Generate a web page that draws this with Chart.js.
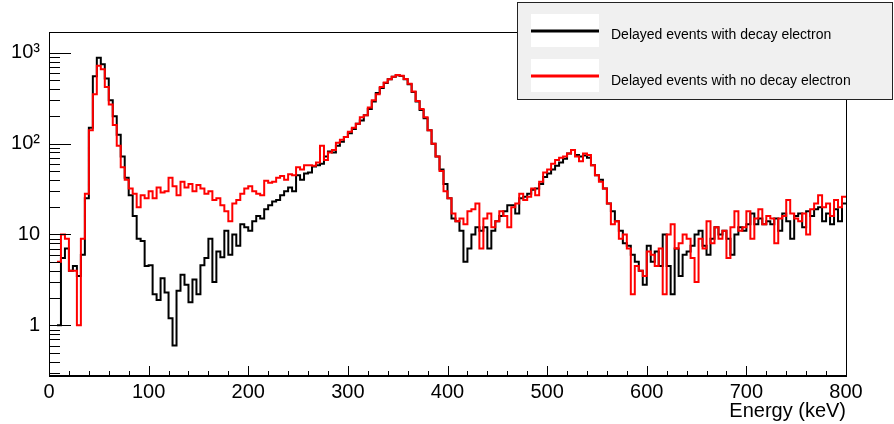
<!DOCTYPE html>
<html>
<head>
<meta charset="utf-8">
<script src="https://cdn.jsdelivr.net/npm/chart.js@4/dist/chart.umd.min.js"></script>
<style>
html,body{margin:0;padding:0;background:#fff;}
#wrap{width:894px;height:424px;position:relative;}
</style>
</head>
<body>
<div id="wrap"><canvas id="c" width="894" height="424"></canvas></div>
<script>
// ---- data (4 keV bins, 0..800 keV) ----
const binWidthKeV = 4;
const xTickLabels = [0, 100, 200, 300, 400, 500, 600, 700, 800];
const yTickLabels = ['1', '10', '10\u00B2', '10\u00B3'];
const seriesNames = ['Delayed events with decay electron', 'Delayed events with no decay electron'];

const withDecayElectron = [
  0,0,1.0,5.5,7,4,4.5,3.5,6,25,
  150,550,880,750,520,300,200,125,72,42,
  27,16,9,8.5,4.5,4.6,2.2,1.9,3.3,2.3,
  1.2,0.6,2.4,3.6,2.8,1.8,3.2,2.2,4.6,5.5,
  9,3,6.5,5.6,11,6,10,7.5,13,12,
  11,14,16,15,19,21,23,24,27,30,
  33,30,45,40,47,48,56,58,60,72,
  82,80,95,105,118,130,145,165,180,205,
  240,290,360,410,465,510,545,565,555,510,
  450,370,290,235,190,140,100,72,52,36,
  25,15,14,11,5,7,10,12,11,12,
  7,11,14,16,18,21,21,17,25,26,
  28,31,32,36,43,47,52,57,62,68,
  78,85,75,72,74,70,58,45,40,32,
  22,18,14,11,8,7.5,6,5,4,2.8,
  7.5,5,6.5,4.5,10,4.5,2.2,7,3.5,6,
  6.5,7.5,10,11,7.5,6,9,12,10,11,
  9,6,10,12,11,13,17,13,15,13,
  14,13,15,11,17,14,9,16,17,12,
  18,16,19,20,14,17,13,19,14,22
];

const noDecayElectron = [
  0,0,5,10,9,4,4,1.0,9,28,
  140,350,720,660,420,270,160,95,55,40,
  32,28,20,27,25,30,25,33,29,30,
  42,34,27,38,33,36,30,35,32,28,
  30,24,25,21,18,14,22,24,28,32,
  34,30,28,27,39,37,38,42,44,40,
  46,45,55,52,58,58,57,62,95,66,
  80,85,102,110,118,135,150,165,195,205,
  250,300,350,420,470,510,545,570,560,515,
  455,375,295,240,195,140,100,72,50,30,
  25,17,14,15,13,18,19,22,7,15,
  17,12,14,18,16,12,20,22,28,24,
  26,32,27,38,48,52,60,66,70,72,
  78,85,72,64,78,75,58,45,38,32,
  22,13,14,9,10,7,2.2,4.5,4,3.5,
  6.5,6,4.5,7,2.2,10,13,7,8,10,
  9,5.5,3,9,7,14,8,12,9,11,
  5.5,12,18,11,12,18,9,15,19,13,
  16,15,8,15,16,24,17,15,14,17,
  10,19,22,27,20,22,16,24,20,26
];

// histogram as step points at bin lower edges, plus closing edge
function toSteps(vals) {
  const pts = vals.map((v, i) => ({x: i * binWidthKeV, y: v}));
  pts.push({x: vals.length * binWidthKeV, y: vals[vals.length - 1]});
  return pts;
}

const FONT = "'Liberation Sans', Arial, sans-serif";

const insideTicks = {
  id: 'insideTicks',
  afterDatasetsDraw(chart) {
    const {ctx, chartArea: a, scales: {x, y}} = chart;
    ctx.save();
    ctx.strokeStyle = '#000';
    ctx.lineWidth = 1;
    ctx.beginPath();
    x.ticks.forEach(t => {
      const px = Math.round(x.getPixelForValue(t.value)) + 0.5;
      const len = (t.value % 100 === 0) ? 10 : 5;
      ctx.moveTo(px, a.bottom);
      ctx.lineTo(px, a.bottom - len);
    });
    y.ticks.forEach(t => {
      const py = Math.round(y.getPixelForValue(t.value)) + 0.5;
      const lg = Math.log10(t.value);
      const len = Math.abs(lg - Math.round(lg)) < 1e-6 ? 22 : 11;
      ctx.moveTo(a.left, py);
      ctx.lineTo(a.left + len, py);
    });
    ctx.stroke();
    ctx.strokeRect(Math.round(a.left) + 0.5, Math.round(a.top) + 0.5,
                   Math.round(a.right - a.left), Math.round(a.bottom - a.top));
    ctx.lineWidth = 2;
    ctx.beginPath();
    ctx.moveTo(a.left, Math.round(a.bottom));
    ctx.lineTo(a.right + 1, Math.round(a.bottom));
    ctx.stroke();
    ctx.restore();
  }
};

const rootLegend = {
  id: 'rootLegend',
  afterDraw(chart) {
    const ctx = chart.ctx;
    const ds = chart.data.datasets;
    const bx = 517, by = 2, bw = 376, bh = 98;
    ctx.save();
    ctx.fillStyle = '#f0f0f0';
    ctx.fillRect(bx, by, bw, bh);
    ctx.strokeStyle = '#222';
    ctx.lineWidth = 1;
    ctx.strokeRect(bx + 0.5, by + 0.5, bw - 1, bh - 1);
    const rows = [{ly: 31, ty: 35, d: ds[1]}, {ly: 76, ty: 81, d: ds[0]}];
    ctx.font = '14px ' + FONT;
    ctx.textBaseline = 'middle';
    ctx.textAlign = 'left';
    rows.forEach(r => {
      ctx.fillStyle = '#fff';
      ctx.fillRect(531, r.ly - 17, 68, 33);
      ctx.strokeStyle = r.d.borderColor;
      ctx.lineWidth = 3;
      ctx.beginPath();
      ctx.moveTo(531, r.ly);
      ctx.lineTo(599, r.ly);
      ctx.stroke();
      ctx.fillStyle = '#000';
      ctx.fillText(r.d.label, 611, r.ty);
    });
    ctx.restore();
  }
};

new Chart(document.getElementById('c'), {
  type: 'line',
  data: {
    datasets: [
      {
        label: seriesNames[1],
        data: toSteps(noDecayElectron),
        borderColor: '#ff0000',
        borderWidth: 2,
        stepped: 'before',
        pointRadius: 0,
        fill: false,
        order: 0
      },
      {
        label: seriesNames[0],
        data: toSteps(withDecayElectron),
        borderColor: '#000000',
        borderWidth: 2,
        stepped: 'before',
        pointRadius: 0,
        fill: false,
        order: 1
      }
    ]
  },
  options: {
    responsive: false,
    devicePixelRatio: 1,
    animation: false,
    layout: {padding: {top: 32, right: 48, left: 0, bottom: 0}},
    plugins: {legend: {display: false}, tooltip: {enabled: false}},
    scales: {
      x: {
        type: 'linear',
        min: 0,
        max: 800,
        grid: {display: false, drawTicks: false},
        border: {display: false},
        ticks: {
          stepSize: 20,
          autoSkip: false,
          maxRotation: 0,
          padding: 4,
          color: '#000',
          font: {family: FONT, size: 20},
          callback: v => xTickLabels.includes(v) ? String(v) : ''
        },
        title: {
          display: true,
          text: 'Energy (keV)',
          align: 'end',
          color: '#000',
          font: {family: FONT, size: 20},
          padding: {top: 0, bottom: 1}
        },
        afterFit: s => { s.height = 48; }
      },
      y: {
        type: 'logarithmic',
        min: 0.277,
        max: 1693,
        grid: {display: false, drawTicks: false},
        border: {display: false},
        afterBuildTicks: s => {
          const t = [];
          [0.1, 1, 10, 100, 1000].forEach(d => {
            for (let k = 1; k <= 9; k++) {
              const v = +(k * d).toPrecision(3);
              if (v >= s.min && v <= s.max) t.push({value: v});
            }
          });
          s.ticks = t;
        },
        ticks: {
          autoSkip: false,
          padding: 9,
          color: '#000',
          font: {family: FONT, size: 20},
          callback: v => {
            const lg = Math.log10(v);
            if (Math.abs(lg - Math.round(lg)) > 1e-6) return '';
            return yTickLabels[Math.round(lg)] || '';
          }
        },
        afterFit: s => { s.width = 49; }
      }
    }
  },
  plugins: [insideTicks, rootLegend]
});
</script>
</body>
</html>
